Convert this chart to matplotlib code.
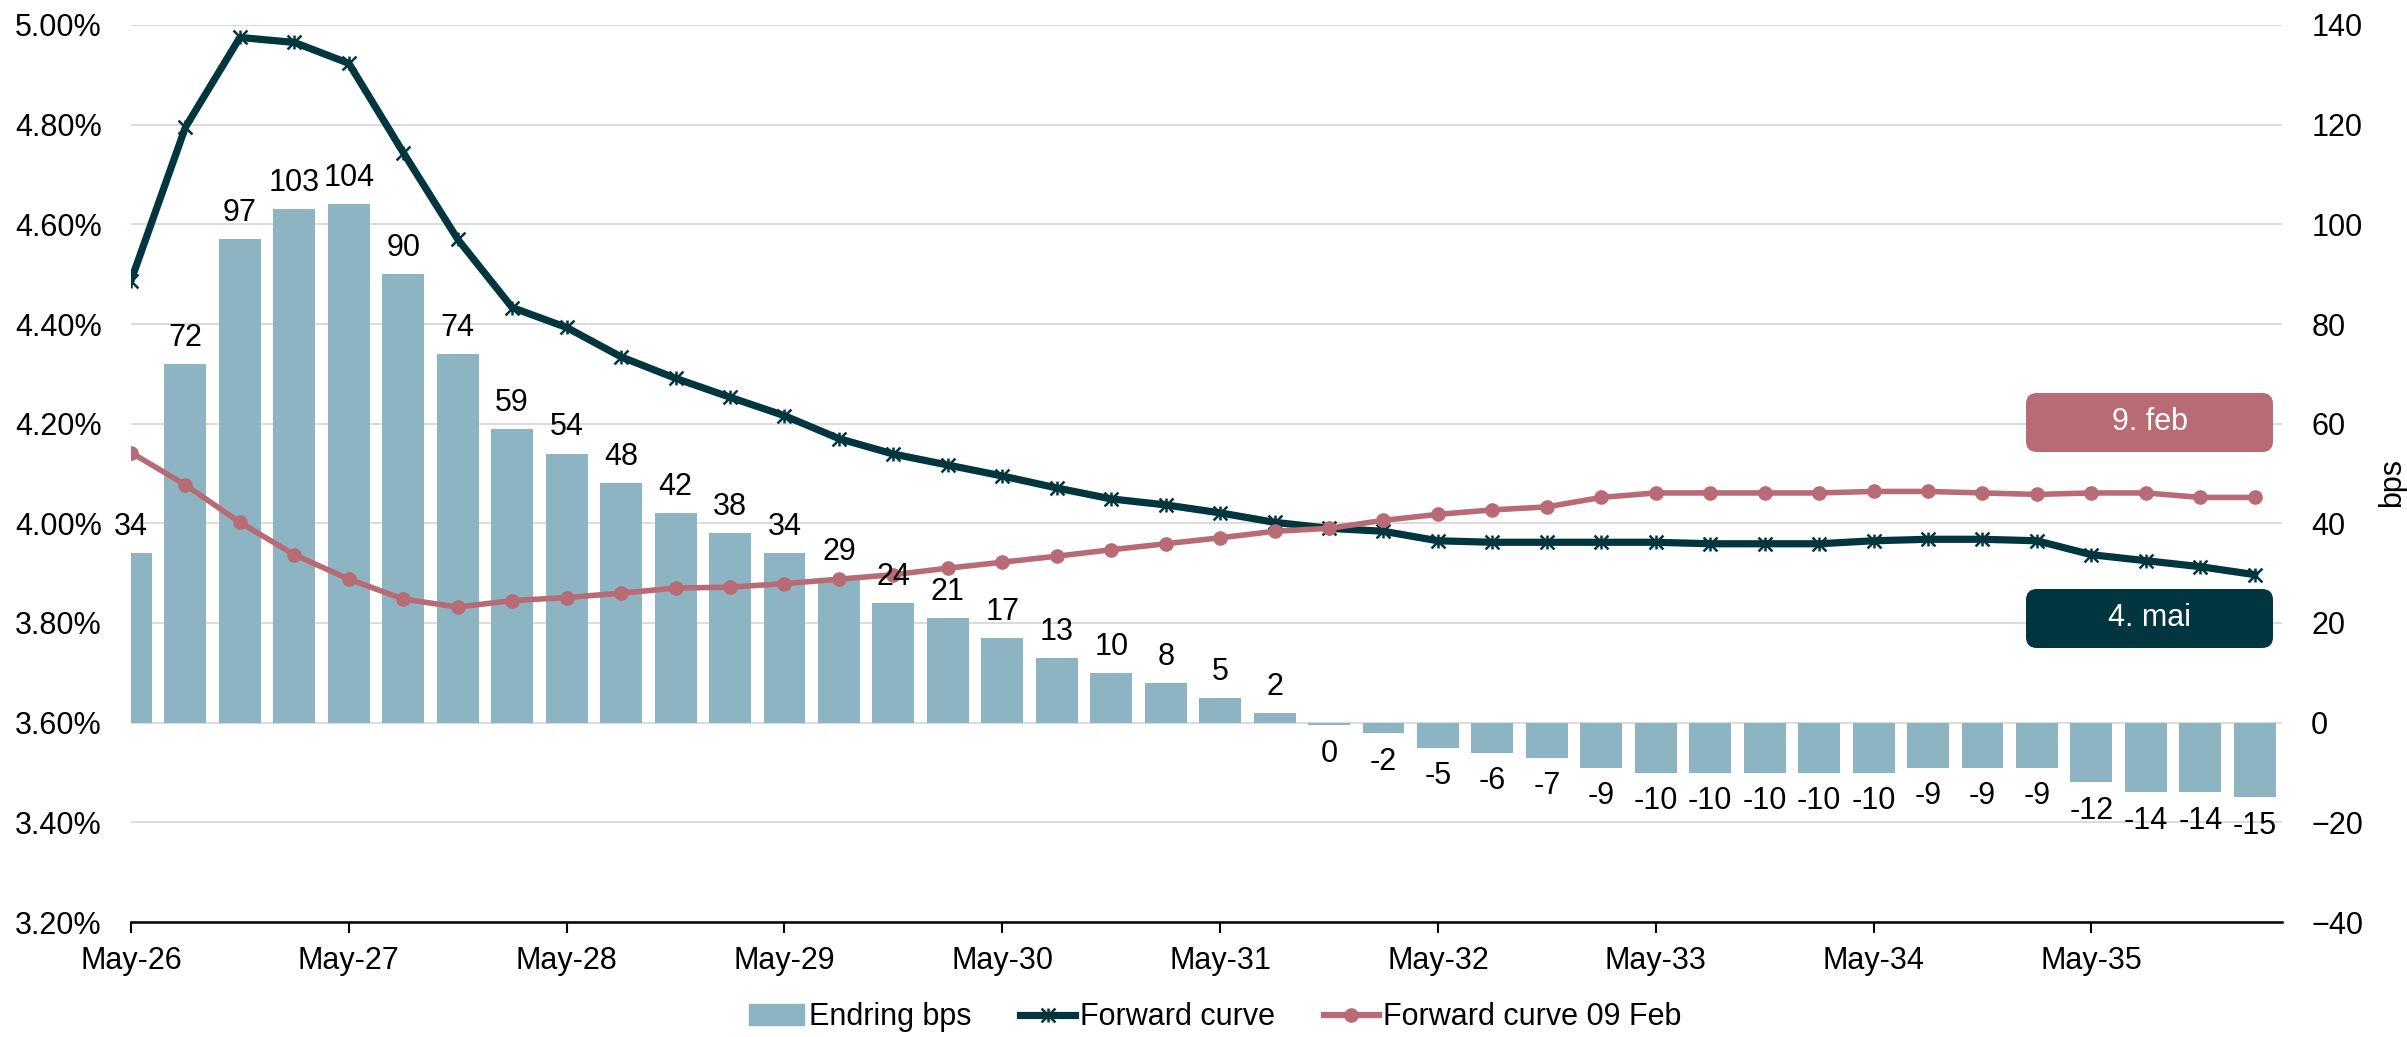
import numpy as np
import matplotlib
matplotlib.use('Agg')
import matplotlib.pyplot as plt
from matplotlib.path import Path
from matplotlib.patches import FancyBboxPatch, Patch
from matplotlib.lines import Line2D

plt.rcParams['font.family'] = ['Liberation Sans', 'DejaVu Sans']
plt.rcParams['font.size'] = 22

# quarterly points, May-26 .. Feb-36
tick_labels = ['May-26', 'May-27', 'May-28', 'May-29', 'May-30',
               'May-31', 'May-32', 'May-33', 'May-34', 'May-35']

endring_bps = [34, 72, 97, 103, 104, 90, 74, 59, 54, 48, 42, 38, 34, 29, 24, 21,
               17, 13, 10, 8, 5, 2, -0.4, -2, -5, -6, -7, -9, -10, -10, -10, -10,
               -10, -9, -9, -9, -12, -14, -14, -15]

forward_curve = [4.487, 4.795, 4.975, 4.965, 4.923, 4.744, 4.570, 4.433, 4.393, 4.334,
                 4.291, 4.253, 4.216, 4.170, 4.139, 4.117, 4.095, 4.071, 4.049, 4.037,
                 4.021, 4.002, 3.990, 3.984, 3.965, 3.962, 3.962, 3.962, 3.962, 3.959,
                 3.959, 3.959, 3.965, 3.968, 3.968, 3.965, 3.937, 3.925, 3.913, 3.897]

forward_feb = [4.142, 4.077, 4.002, 3.937, 3.888, 3.848, 3.832, 3.845, 3.851, 3.860,
               3.870, 3.872, 3.879, 3.888, 3.897, 3.910, 3.922, 3.934, 3.947, 3.959,
               3.971, 3.984, 3.990, 4.006, 4.018, 4.027, 4.033, 4.052, 4.061, 4.061,
               4.061, 4.061, 4.064, 4.064, 4.061, 4.058, 4.061, 4.061, 4.052, 4.052]

bar_c = '#8DB4C3'
dark = '#02363F'
pink = '#B86B74'
grid_c = '#D9D9D9'

x = np.arange(len(endring_bps))

# excel-style star marker: x plus vertical stroke
star = Path([(-1, -1), (1, 1), (-1, 1), (1, -1), (0, -1), (0, 1)],
            [Path.MOVETO, Path.LINETO] * 3)

W, H = 2407, 1037
fig = plt.figure(figsize=(W / 100, H / 100), dpi=100)
axb = fig.add_axes([131 / W, 1 - 922 / H, (2282 - 131) / W, (922 - 25) / H])
axl = axb.twinx()
axb.yaxis.tick_right()
axb.yaxis.set_label_position('right')
axl.yaxis.tick_left()

# bars (right axis, bps)
axb.bar(x, endring_bps, width=0.77, color=bar_c, zorder=2)
axb.set_ylim(-40, 140)
axb.set_yticks(np.arange(-40, 141, 20))
axb.yaxis.grid(True, color=grid_c, lw=1.3)
axb.set_axisbelow(True)
ylab = axb.set_ylabel('bps')
axb.yaxis.set_label_coords(1.051, 0.49)
ylab.set_va('center')
ylab.set_ha('center')

# lines (left axis, %)
axl.plot(x, forward_curve, color=dark, lw=5.2, marker=star, ms=10,
         mew=1.8, zorder=3)
axl.plot(x, forward_feb, color=pink, lw=4, marker='o', ms=9.5, zorder=3)
axl.set_ylim(3.2, 5.0)
axl.set_yticks(np.arange(3.2, 5.001, 0.2))
axl.set_yticklabels([f'{v:.2f}%' for v in np.arange(3.2, 5.001, 0.2)])

axb.set_xlim(0, 39.5)
axb.set_xticks(np.arange(0, 40, 4))
axb.set_xticklabels(tick_labels)
axb.tick_params(axis='x', length=8, width=1.5, color='black', pad=9)
axb.tick_params(axis='y', length=0, pad=21)
axl.tick_params(axis='y', length=0, pad=21)

for a in (axb, axl):
    for s in a.spines.values():
        s.set_visible(False)
axb.spines['bottom'].set_visible(True)
axb.spines['bottom'].set_linewidth(1.8)
axb.spines['bottom'].set_color('black')

# bar value labels
for xi, v in zip(x, endring_bps):
    if v > 0:
        axl.annotate(f'{v:.0f}', xy=(xi, v), xycoords=axb.transData,
                     xytext=(0, 8), textcoords='offset points',
                     ha='center', va='bottom', zorder=5)
    else:
        axl.annotate(f'{abs(v):.0f}' if round(v) == 0 else f'{v:.0f}',
                     xy=(xi, v), xycoords=axb.transData,
                     xytext=(0, -10), textcoords='offset points',
                     ha='center', va='top', zorder=5)

# date boxes
def date_box(y_top, text, color):
    x0, w, h = 2026, 247, 59
    box = FancyBboxPatch((x0 / W, 1 - (y_top + h) / H), w / W, h / H,
                         boxstyle='round,pad=0,rounding_size=0.0045',
                         mutation_aspect=W / H, transform=fig.transFigure,
                         facecolor=color, edgecolor='none', zorder=10)
    fig.patches.append(box)
    fig.text((x0 + w / 2) / W, 1 - (y_top + h / 2) / H, text, color='white',
             ha='center', va='center', fontsize=22, zorder=11)

date_box(393, '9. feb', pink)
date_box(589, '4. mai', dark)

handles = [Patch(color=bar_c),
           Line2D([], [], color=dark, lw=5.2, marker=star, ms=10, mew=1.8),
           Line2D([], [], color=pink, lw=4.5, marker='o', ms=9.5)]
fig.legend(handles, ['Endring bps', 'Forward curve', 'Forward curve 09 Feb'],
           loc='center', bbox_to_anchor=(0.505, 0.019), ncol=3, frameon=False,
           handlelength=1.8, handletextpad=0.15, columnspacing=1.6, fontsize=22,
           borderpad=0)

fig.savefig('out.png', dpi=100)
